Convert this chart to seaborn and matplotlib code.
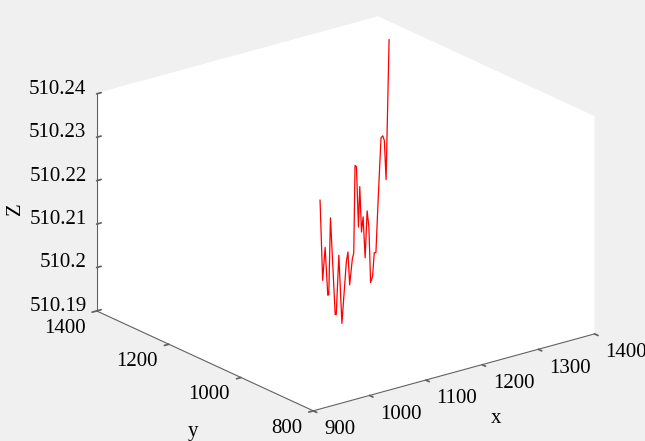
import matplotlib
matplotlib.use("Agg")
import matplotlib.pyplot as plt
import seaborn as sns
from mpl_toolkits.mplot3d import proj3d

# path samples (x, y in plane units, z elevation)
x_vals = [944.1, 960.5, 975.7, 992.1, 998.4, 1009.1, 1038.7, 1045.1, 1061.4, 1080.4,
          1108.1, 1118.2, 1128.9, 1146.0, 1154.2, 1162.4, 1171.2, 1183.8, 1192.0, 1202.7,
          1212.8, 1225.4, 1238.0, 1248.8, 1259.5, 1272.1, 1282.2, 1292.9, 1307.4, 1324.5,
          1335.2, 1345.3, 1356.0, 1374.9]
y_vals = [850.0, 868.3, 885.1, 903.4, 910.4, 922.4, 955.4, 962.5, 980.7, 1001.8,
          1032.7, 1044.0, 1055.9, 1074.9, 1084.0, 1093.2, 1103.0, 1117.1, 1126.2, 1138.1,
          1149.4, 1163.4, 1177.5, 1189.5, 1201.4, 1215.4, 1226.7, 1238.7, 1254.8, 1273.8,
          1285.7, 1297.0, 1308.9, 1330.0]
z_vals = [510.2351, 510.2153, 510.2217, 510.2094, 510.2090, 510.2259, 510.2013, 510.2008,
          510.2132, 510.1960, 510.2080, 510.2095, 510.2011, 510.2059, 510.2064, 510.2260,
          510.2250, 510.2101, 510.2188, 510.2075, 510.2102, 510.1998, 510.2096, 510.2051,
          510.1914, 510.1920, 510.1965, 510.1957, 510.2074, 510.2197, 510.2193, 510.2174,
          510.2076, 510.2384]

x_ticks = [900, 1000, 1100, 1200, 1300, 1400]
y_ticks = [800, 1000, 1200, 1400]
z_ticks = [510.19, 510.20, 510.21, 510.22, 510.23, 510.24]
z_tick_labels = ["510.19", "510.2", "510.21", "510.22", "510.23", "510.24"]

sns.set_theme(style="white")
plt.rcParams["font.family"] = ["Liberation Serif", "DejaVu Serif"]

bg = "#f0f0f0"
axis_grey = "0.38"
fs = 15
fig = plt.figure(figsize=(6.45, 4.41), dpi=100, facecolor=bg)
S = 600.0
cx, cy = 337.5, 441 - 222.0
ax = fig.add_axes([(cx - S / 2) / 645, (cy - S / 2) / 441, S / 645, S / 441],
                  projection="3d", proj_type="ortho")
ax.set_facecolor(bg)

ax.plot(x_vals, y_vals, z_vals, color="#ff0000", lw=0.9)

x0, x1 = 900, 1400
y0, y1 = 800, 1400
z0, z1 = 510.19, 510.24
ax.set_xlim(x0, x1)
ax.set_ylim(y0, y1)
ax.set_zlim(z0, z1)
ax.set_xticks(x_ticks)
ax.set_yticks(y_ticks)
ax.set_zticks(z_ticks)
ax.set_xticklabels([])
ax.set_yticklabels([])
ax.set_zticklabels([])

ax.view_init(elev=20.8, azim=-127.6)
ax.set_box_aspect((1, 1, 0.654), zoom=0.895)

ax.grid(False)
for axis in (ax.xaxis, ax.yaxis, ax.zaxis):
    axis.set_pane_color((1, 1, 1, 1))
    axis.pane.set_edgecolor("white")
    axis.line.set_color(axis_grey)
    axis.line.set_linewidth(0.8)
# x/y ticks point into the box, z ticks point out (as in the original)
for axis in (ax.xaxis, ax.yaxis):
    axis._axinfo["tick"]["inward_factor"] = 0.2
    axis._axinfo["tick"]["outward_factor"] = 0.0
ax.zaxis._axinfo["tick"]["inward_factor"] = 0.0
ax.zaxis._axinfo["tick"]["outward_factor"] = 0.2
ax.tick_params(axis="both", colors=axis_grey, width=0.8)
ax.tick_params(axis="z", colors=axis_grey, width=0.8)

# MATLAB-style labels: anchor in 3D, then place as plain 2D text
M = ax.get_proj()


def label3d(x, y, z, s, **kw):
    px, py, _ = proj3d.proj_transform(x, y, z, M)
    ax.text2D(px, py, s, transform=ax.transData, fontsize=fs, color="black", **kw)


for xv in x_ticks:
    label3d(xv, y0 - 30, z0 - 0.001, str(xv), ha="left", va="top")
for yv in y_ticks:
    label3d(x0 - 20, yv, z0 - 0.0011, str(yv), ha="right", va="top")
for zv, zl in zip(z_ticks, z_tick_labels):
    label3d(x0, y1 + 28, zv, zl, ha="right", va="center")

label3d(1150, 683, 510.1839, "x", ha="center", va="center")
label3d(878, 1100, 510.1744, "y", ha="center", va="center")
label3d(900, 1626, 510.205, "Z", ha="center", va="center", rotation=90)

fig.savefig("out.png", dpi=100, facecolor=bg)
